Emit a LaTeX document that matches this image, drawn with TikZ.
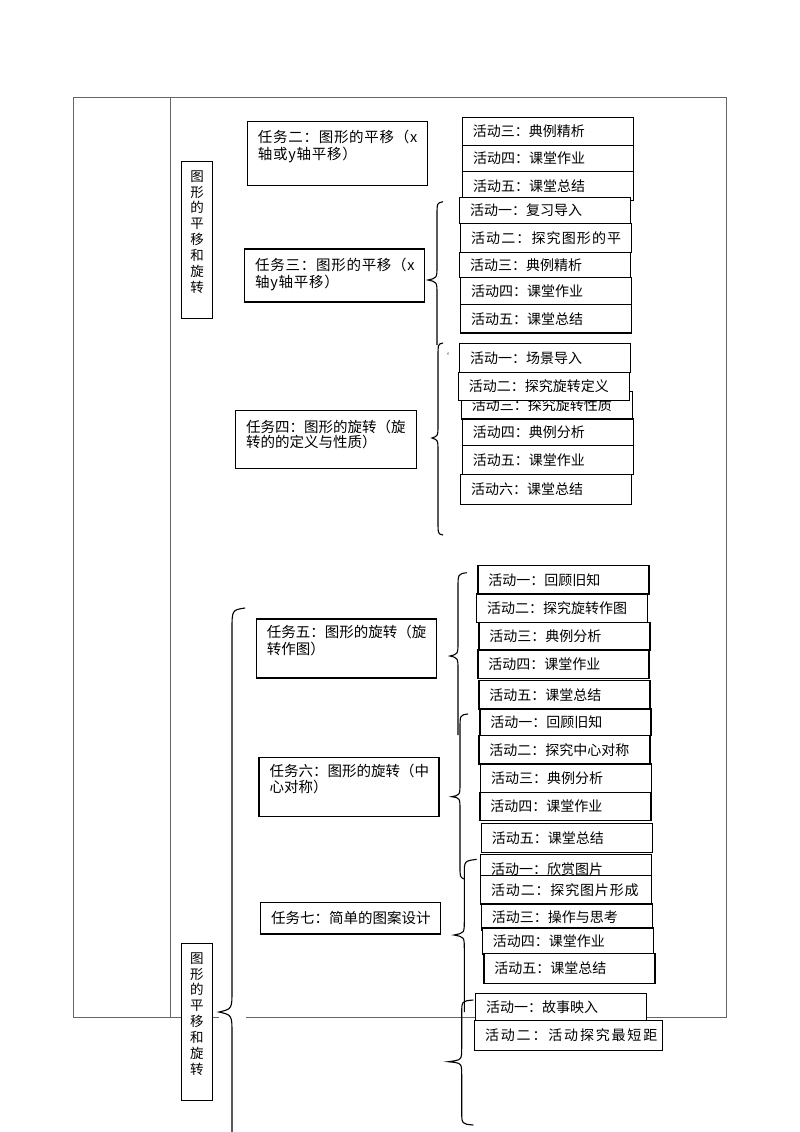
\documentclass[tikz,border=0pt]{standalone}
\usepackage{fontspec}
\setmainfont{Noto Sans CJK SC}
\newcommand{\taskfont}{\fontsize{14.5pt}{16.6pt}\selectfont}
\newcommand{\actfont}{\fontsize{14pt}{16pt}\selectfont}
\newcommand{\sidefont}{\fontsize{13.5pt}{15.9pt}\selectfont}
\begin{document}
\begin{tikzpicture}[x=1pt, y=-1pt,
				frame/.style={draw=black!60, line width=0.9pt},
				taskbox/.style={rectangle, draw=black, line width=1.2pt, fill=white, anchor=north west, inner sep=0pt, minimum width=180pt},
				tasktext/.style={anchor=north west, inner sep=0pt, align=left, font=\taskfont, xshift=11pt},
				act/.style={rectangle, draw=black, line width=1.2pt, fill=white, anchor=north west, text width=150pt, inner xsep=10.5pt, inner ysep=0pt, minimum height=28pt, font=\actfont},
				sidebox/.style={rectangle, draw=black, line width=1.2pt, fill=white, anchor=north west, inner sep=0pt, minimum width=31pt, minimum height=157pt},
				sidetext/.style={anchor=north, inner sep=0pt, align=center, font=\sidefont, yshift=-9.5pt},
				bracel/.style={draw=black, line width=1.1pt}
			]
			\useasboundingbox (0,0) rectangle (800,1132);
			% table frame
			\draw[frame] (73,1017) -- (73,97) -- (726,97) -- (726,1017) -- (246,1017);
			\draw[frame] (73,1017) -- (219,1017);
			\draw[frame] (170,97) -- (170,1017);
			% left column
			\node[sidebox, label={[sidetext]north:{图\\形\\的\\平\\移\\和\\旋\\转}}] (side1) at (181,160.7) {};
			\node[sidebox, label={[sidetext]north:{图\\形\\的\\平\\移\\和\\旋\\转}}] (side2) at (180.7,942.7) {};
			% tasks
			\node[taskbox, minimum height=64pt, label={[tasktext, yshift=-9.5pt, font={\taskfont\addfontfeature{LetterSpace=5}}]north west:{任务二：图形的平移（x\\轴或y轴平移）}}] (task2) at (246.7,120.7) {};
			\node[taskbox, minimum height=53pt, label={[tasktext, yshift=-10pt, font={\taskfont\addfontfeature{LetterSpace=5}}]north west:{任务三：图形的平移（x\\轴y轴平移）}}] (task3) at (244,248.3) {};
			\node[taskbox, minimum width=181pt, minimum height=58pt, label={[tasktext, yshift=-10pt, font=\fontsize{14.5pt}{15pt}\selectfont]north west:{任务四：图形的旋转（旋\\转的的定义与性质）}}] (task4) at (235,410) {};
			\node[taskbox, minimum height=59pt, label={[tasktext, yshift=-7pt]north west:{任务五：图形的旋转（旋\\转作图）}}] (task5) at (255.7,618.3) {};
			\node[taskbox, minimum height=59pt, label={[tasktext, yshift=-7pt]north west:{任务六：图形的旋转（中\\心对称）}}] (task6) at (258.3,756.7) {};
			\node[taskbox, minimum height=31.6pt, label={[tasktext, yshift=-9pt]north west:{任务七：简单的图案设计}}] (task7) at (260,901.7) {};
			% braces
			\draw[bracel] (443,201.7) .. controls (437,203) .. (437,216) -- (437,266) .. controls (437,278) .. (428,280) .. controls (437,282) .. (437,294) -- (437,345);
			\draw[bracel] (443,343) .. controls (438,344) .. (438,357) -- (438,424) .. controls (438,436) .. (432,438) .. controls (438,440) .. (438,452) -- (438,521) .. controls (438,534) .. (443,535);
			\draw[bracel] (466.7,572.7) .. controls (458,574) .. (458,588) -- (458,642) .. controls (458,654) .. (450,656) .. controls (458,658) .. (458,670) -- (458,735);
			\draw[bracel] (468,714) .. controls (460,715) .. (460,729) -- (460,783) .. controls (460,795) .. (451.7,796.7) .. controls (460,798) .. (460,810) -- (460,866) .. controls (460,877) .. (464,879);
			\draw[bracel] (476.7,859.3) .. controls (464.3,861) .. (464.3,874) -- (464.3,921) .. controls (464.3,933) .. (454,935) .. controls (464.3,937) .. (464.3,949) -- (464.3,1012);
			\draw[bracel] (473.3,1000) .. controls (461.7,1001) .. (461.7,1014) -- (461.7,1048) .. controls (461.7,1060) .. (448.3,1061.7) .. controls (461.7,1063) .. (461.7,1075) -- (461.7,1111) .. controls (461.7,1124) .. (473.3,1125);
			\draw[bracel] (245,608) .. controls (232,610) .. (232,630) -- (232,990) .. controls (232,1009) .. (219,1012) .. controls (232,1015) .. (232,1034) -- (232,1132);
			\node[inner sep=0pt, font=\fontsize{8pt}{8pt}\selectfont] (stray) at (445,356) {`};
			% task 2 activities
			\node[act, minimum height=28.3pt] (t2a3) at (461.7,116.7) {活动三：典例精析};
			\node[act, minimum height=26pt] (t2a4) at (462,145) {活动四：课堂作业};
			\node[act, minimum height=29pt] (t2a5) at (462,171) {活动五：课堂总结};
			% task 3 activities
			\node[act, minimum height=26pt] (t3a1) at (459,196.7) {活动一：复习导入};
			\node[act, minimum height=29pt] (t3a2) at (460,222.7) {{\addfontfeature{LetterSpace=8}活动二：探究图形的平}};
			\node[act, minimum height=25pt] (t3a3) at (459,251.7) {活动三：典例精析};
			\node[act, minimum height=27.3pt] (t3a4) at (460,276.7) {活动四：课堂作业};
			\node[act, minimum height=28.3pt] (t3a5) at (460,304) {活动五：课堂总结};
			% task 4 activities
			\node[act, minimum height=29pt] (t4a1) at (459,342.7) {活动一：场景导入};
			\node[act, minimum height=27.3pt] (t4a3) at (460.7,391) {活动三：探究旋转性质};
			\node[act, minimum height=28.3pt] (t4a2) at (457.7,371.7) {活动二：探究旋转定义};
			\node[act, minimum height=26.7pt] (t4a4) at (461.7,418.3) {活动四：典例分析};
			\node[act, minimum height=29pt] (t4a5) at (461.7,445) {活动五：课堂作业};
			\node[act, minimum height=30pt] (t4a6) at (460,474) {活动六：课堂总结};
			% task 5 activities
			\node[act, minimum height=28.3pt] (t5a1) at (477.3,565) {活动一：回顾旧知};
			\node[act, minimum height=28.4pt] (t5a2) at (476,593.3) {活动二：探究旋转作图};
			\node[act, minimum height=27.6pt] (t5a3) at (478.3,621.7) {活动三：典例分析};
			\node[act, minimum height=28.4pt] (t5a4) at (477.3,649.3) {活动四：课堂作业};
			\node[act, minimum height=28.3pt] (t5a5) at (478.3,680) {活动五：课堂总结};
			% task 6 activities
			\node[act, minimum height=26.7pt] (t6a1) at (479.3,708.3) {活动一：回顾旧知};
			\node[act, minimum height=28.3pt] (t6a2) at (478.3,735) {活动二：探究中心对称};
			\node[act, minimum height=28.4pt] (t6a3) at (480,763.3) {活动三：典例分析};
			\node[act, minimum height=28.3pt] (t6a4) at (479.3,791.7) {活动四：课堂作业};
			\node[act, minimum height=29pt] (t6a5) at (480.7,822.7) {活动五：课堂总结};
			% task 7 activities
			\node[act, minimum height=28.7pt] (t7a1) at (480,854) {活动一：欣赏图片};
			\node[act, minimum height=28.3pt] (t7a2) at (480,875) {{\addfontfeature{LetterSpace=6}活动二：探究图片形成}};
			\node[act, minimum height=26pt] (t7a3) at (480.7,903.3) {活动三：操作与思考};
			\node[act, minimum height=26.7pt] (t7a4) at (481.7,927.3) {活动四：课堂作业};
			\node[act, minimum height=30pt] (t7a5) at (483.3,952.7) {活动五：课堂总结};
			% last group
			\node[act, minimum height=27.3pt] (t8a1) at (475,992.7) {活动一：故事映入};
			\node[act, text width=166.7pt, minimum height=30pt] (t8a2) at (474,1020) {{\addfontfeature{LetterSpace=13}活动二：活动探究最短距}};
\end{tikzpicture}
\end{document}
